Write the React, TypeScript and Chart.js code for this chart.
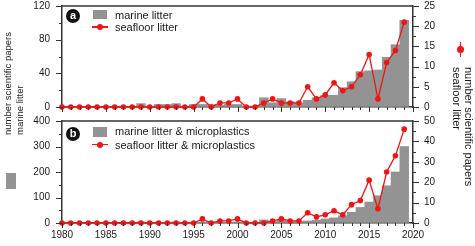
import React, { useEffect, useRef } from 'react';
import { Chart, registerables } from 'chart.js';

Chart.register(...registerables);

const YEARS = [
  1980, 1981, 1982, 1983, 1984, 1985, 1986, 1987, 1988, 1989,
  1990, 1991, 1992, 1993, 1994, 1995, 1996, 1997, 1998, 1999,
  2000, 2001, 2002, 2003, 2004, 2005, 2006, 2007, 2008, 2009,
  2010, 2011, 2012, 2013, 2014, 2015, 2016, 2017, 2018, 2019,
];

// Panel a
const MARINE_LITTER = [
  0, 0, 0, 0, 0, 0, 0, 0, 0, 4,
  0, 3, 3, 4, 0, 3, 3, 3, 2, 3,
  3, 1, 1, 11, 5, 10, 6, 5, 8, 11,
  14, 14, 23, 30, 42, 43, 44, 59, 74, 103,
];
const SEAFLOOR_LITTER = [
  0, 0, 0, 0, 0, 0, 0, 0, 0, 0,
  0, 0, 0, 0, 0, 0, 2, 0, 1, 1,
  2, 0, 0, 1, 2, 1, 1, 1, 5, 2,
  3, 6, 4, 5, 8, 13, 2, 11, 14, 21,
];

// Panel b
const MARINE_MICRO = [
  0, 0, 0, 0, 0, 0, 0, 0, 0, 4,
  0, 3, 3, 4, 0, 3, 3, 3, 3, 3,
  4, 2, 2, 12, 5, 10, 7, 7, 8, 11,
  16, 20, 28, 42, 61, 82, 107, 146, 200, 300,
];
const SEAFLOOR_MICRO = [
  0, 0, 0, 0, 0, 0, 0, 0, 0, 0,
  0, 0, 0, 0, 0, 0, 2, 0, 1, 1,
  2, 0, 0, 0, 1, 2, 1, 1, 5, 3,
  4, 6, 4, 9, 11, 21, 7, 25, 33, 46,
];

const GREY = '#939393';
const RED = '#f01414';
const AXIS = '#333333';
const TEXT = '#1a1a1a';
const FONT = "'Liberation Sans', Arial, Helvetica, sans-serif";

Chart.defaults.font.family = FONT;
Chart.defaults.color = TEXT;

const tickMarks = {
  id: 'tickMarks',
  afterDraw(chart: any, _args: any, o: any) {
    const { ctx, chartArea: ca, scales } = chart;
    ctx.save();
    ctx.strokeStyle = AXIS;
    ctx.lineWidth = 1;
    const seg = (x1: number, y1: number, x2: number, y2: number) => {
      ctx.beginPath();
      ctx.moveTo(x1, y1);
      ctx.lineTo(x2, y2);
      ctx.stroke();
    };
    const isMajor = (v: number, step: number) => Math.abs(v / step - Math.round(v / step)) < 1e-6;
    const xs = scales.x;
    for (let v = xs.min; v <= xs.max + 1e-9; v += o.xMinor) {
      const px = Math.round(xs.getPixelForValue(v)) + 0.5;
      seg(px, ca.bottom, px, ca.bottom + (isMajor(v, o.xMajor) ? 5 : 3));
    }
    const ys = scales.y;
    for (let v = ys.min; v <= ys.max + 1e-9; v += o.yMinor) {
      const py = Math.round(ys.getPixelForValue(v)) + 0.5;
      seg(ca.left - (isMajor(v, o.yMajor) ? 6 : 3), py, ca.left, py);
    }
    const y2 = scales.y2;
    for (let v = y2.min; v <= y2.max + 1e-9; v += o.y2Minor) {
      const py = Math.round(y2.getPixelForValue(v)) + 0.5;
      seg(ca.right, py, ca.right + (isMajor(v, o.y2Major) ? 6 : 3), py);
    }
    ctx.lineWidth = 1.5;
    seg(ca.left, ca.top, ca.right, ca.top);
    ctx.restore();
  },
};

function buildConfig(
  bars: number[],
  line: number[],
  barLabel: string,
  lineLabel: string,
  leftMax: number,
  leftStep: number,
  leftMinor: number,
  rightMax: number,
  rightStep: number,
  rightMinor: number,
  xHeight: number,
  padTop: number,
  showX: boolean
): any {
  const border = { display: true, color: AXIS, width: 1.5 };
  const fitY = (s: any) => {
    s.width = 62;
    s.paddingTop = 0;
    s.paddingBottom = 0;
  };
  return {
    type: 'bar',
    data: {
      datasets: [
        {
          type: 'line',
          label: lineLabel,
          data: YEARS.map((y, i) => ({ x: y, y: line[i] })),
          yAxisID: 'y2',
          borderColor: RED,
          backgroundColor: RED,
          borderWidth: 1.3,
          pointRadius: 2.8,
          pointHoverRadius: 2.8,
          pointBorderWidth: 0,
          pointBackgroundColor: RED,
          tension: 0,
          clip: false,
          order: 0,
        },
        {
          type: 'bar',
          label: barLabel,
          data: YEARS.map((y, i) => ({ x: y, y: bars[i] })),
          yAxisID: 'y',
          backgroundColor: GREY,
          borderWidth: 0,
          barPercentage: 1,
          categoryPercentage: 1,
          order: 1,
        },
      ],
    },
    options: {
      animation: false,
      responsive: false,
      maintainAspectRatio: false,
      layout: { padding: { top: padTop, left: 0, right: 0, bottom: 0 } },
      plugins: {
        legend: { display: false },
        tooltip: { enabled: false },
        tickMarks: {
          xMinor: 1,
          xMajor: 5,
          yMinor: leftMinor,
          yMajor: leftStep,
          y2Minor: rightMinor,
          y2Major: rightStep,
        },
      },
      scales: {
        x: {
          type: 'linear',
          min: 1980,
          max: 2020,
          offset: false,
          ticks: {
            display: showX,
            stepSize: 5,
            padding: 6,
            font: { size: 10, family: FONT },
            color: TEXT,
            maxRotation: 0,
            callback: (v: any) => String(v),
          },
          grid: { drawOnChartArea: false, drawTicks: false },
          border,
          afterFit: (s: any) => {
            s.height = xHeight;
            s.paddingLeft = 0;
            s.paddingRight = 0;
          },
        },
        y: {
          position: 'left',
          min: 0,
          max: leftMax,
          ticks: {
            stepSize: leftStep,
            padding: 12,
            font: { size: 10, family: FONT },
            color: TEXT,
          },
          grid: { drawOnChartArea: false, drawTicks: false },
          border,
          afterFit: fitY,
        },
        y2: {
          position: 'right',
          min: 0,
          max: rightMax,
          ticks: {
            stepSize: rightStep,
            padding: 11,
            font: { size: 10, family: FONT },
            color: TEXT,
          },
          grid: { drawOnChartArea: false, drawTicks: false },
          border,
          afterFit: fitY,
        },
      },
    },
    plugins: [tickMarks],
  };
}

const abs = (style: React.CSSProperties): React.CSSProperties => ({ position: 'absolute', ...style });

const textStyle: React.CSSProperties = {
  fontFamily: FONT,
  fontSize: 11,
  lineHeight: '12px',
  color: TEXT,
  whiteSpace: 'nowrap',
};

function PanelLabel({ letter, left, top }: { letter: string; left: number; top: number }) {
  return (
    <div
      style={abs({
        left,
        top,
        width: 14,
        height: 14,
        borderRadius: '50%',
        background: '#111',
        color: '#fff',
        fontFamily: FONT,
        fontWeight: 'bold',
        fontSize: 11,
        lineHeight: '13px',
        textAlign: 'center',
      })}
    >
      {letter}
    </div>
  );
}

function BarKey({ left, top, h }: { left: number; top: number; h: number }) {
  return <div style={abs({ left, top, width: 14, height: h, background: GREY })} />;
}

function LineKey({ cx, cy }: { cx: number; cy: number }) {
  return (
    <>
      <div style={abs({ left: cx - 8, top: cy - 0.75, width: 16, height: 1.5, background: RED })} />
      <div
        style={abs({ left: cx - 3, top: cy - 3, width: 6, height: 6, borderRadius: '50%', background: RED })}
      />
    </>
  );
}

export default function App() {
  const refA = useRef<HTMLCanvasElement | null>(null);
  const refB = useRef<HTMLCanvasElement | null>(null);

  useEffect(() => {
    document.body.style.margin = '0';
    const a = new Chart(
      refA.current as HTMLCanvasElement,
      buildConfig(MARINE_LITTER, SEAFLOOR_LITTER, 'marine litter', 'seafloor litter', 120, 40, 20, 25, 5, 2.5, 13, 6, false)
    );
    const b = new Chart(
      refB.current as HTMLCanvasElement,
      buildConfig(
        MARINE_MICRO,
        SEAFLOOR_MICRO,
        'marine litter & microplastics',
        'seafloor litter & microplastics',
        400,
        100,
        50,
        50,
        10,
        5,
        23,
        7,
        true
      )
    );
    return () => {
      a.destroy();
      b.destroy();
    };
  }, []);

  return (
    <div style={{ position: 'relative', width: 475, height: 246, background: '#fff', overflow: 'hidden' }}>
      <canvas ref={refA} width={475} height={120} style={abs({ left: 0, top: 0, width: 475, height: 120 })} />
      <canvas ref={refB} width={475} height={132} style={abs({ left: 0, top: 114, width: 475, height: 132 })} />

      {/* Panel a legend */}
      <PanelLabel letter="a" left={66} top={9} />
      <BarKey left={93} top={10} h={9} />
      <div style={abs({ ...textStyle, left: 115, top: 8.5 })}>marine litter</div>
      <LineKey cx={100} cy={27} />
      <div style={abs({ ...textStyle, left: 115, top: 21 })}>seafloor litter</div>

      {/* Panel b legend */}
      <PanelLabel letter="b" left={66} top={127} />
      <BarKey left={93} top={126.5} h={10} />
      <div style={abs({ ...textStyle, left: 115, top: 125 })}>marine litter &amp; microplastics</div>
      <LineKey cx={100} cy={144.5} />
      <div style={abs({ ...textStyle, left: 115, top: 138.5 })}>seafloor litter &amp; microplastics</div>

      {/* Left axis title */}
      <div
        style={abs({
          left: 0,
          top: 0,
          fontFamily: FONT,
          fontSize: 9.5,
          lineHeight: '11.5px',
          color: TEXT,
          whiteSpace: 'nowrap',
          textAlign: 'left',
          transformOrigin: '0 0',
          transform: 'translate(2px, 135px) rotate(-90deg)',
        })}
      >
        number scientific papers
        <br />
        marine litter
      </div>
      <div style={abs({ left: 6, top: 173, width: 10, height: 16, background: GREY })} />

      {/* Right axis title */}
      <div
        style={abs({
          left: 0,
          top: 0,
          fontFamily: FONT,
          fontSize: 11,
          lineHeight: '12px',
          color: TEXT,
          whiteSpace: 'nowrap',
          textAlign: 'left',
          transformOrigin: '0 0',
          transform: 'translate(475px, 67px) rotate(90deg)',
        })}
      >
        number scientific papers
        <br />
        seafloor litter
      </div>
      <div style={abs({ left: 459.75, top: 42, width: 1.5, height: 15, background: RED })} />
      <div style={abs({ left: 457, top: 46, width: 7, height: 7, borderRadius: '50%', background: RED })} />
    </div>
  );
}
